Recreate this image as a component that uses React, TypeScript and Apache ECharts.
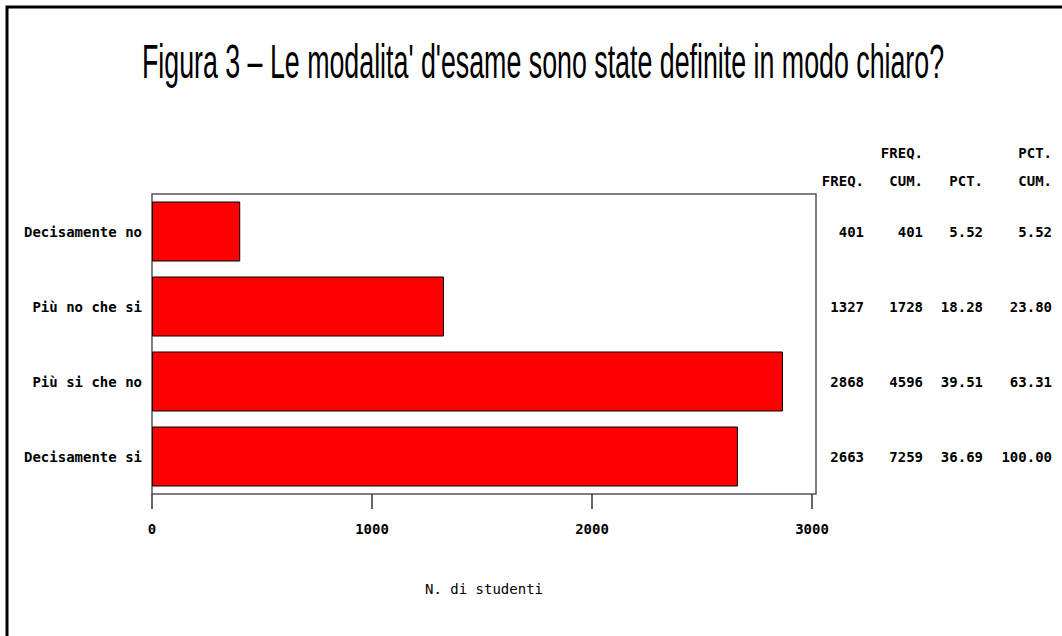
import React, { useEffect, useRef } from "react";
import * as echarts from "echarts";

const categories = ["Decisamente no", "Più no che si", "Più si che no", "Decisamente si"];
const freq = [401, 1327, 2868, 2663];
const freqCum = ["401", "1728", "4596", "7259"];
const pct = ["5.52", "18.28", "39.51", "36.69"];
const pctCum = ["5.52", "23.80", "63.31", "100.00"];
const xTicks = [0, 1000, 2000, 3000];
const headerTop = ["", "FREQ.", "", "PCT."];
const headerBottom = ["FREQ.", "CUM.", "PCT.", "CUM."];
const titleText = "Figura 3 \u2013 Le modalita' d'esame sono state definite in modo chiaro?";
const axisName = "N. di studenti";

const MONO = '"DejaVu Sans Mono", monospace';
const TITLE_FONT_SIZE = 48;

function measure(text: string, font: string): number {
  const c = document.createElement("canvas");
  const ctx = c.getContext("2d");
  if (!ctx) return 1000;
  ctx.font = font;
  return ctx.measureText(text).width;
}

export default function App() {
  const ref = useRef<HTMLDivElement>(null);

  useEffect(() => {
    if (!ref.current) return;
    const chart = echarts.init(ref.current, undefined, { renderer: "svg" });

    const gridLeft = 152;
    const gridTop = 194;
    const gridWidth = 664;
    const gridHeight = 300;
    const gridRightX = gridLeft + gridWidth;

    const colRight = [864, 923, 983, 1052];
    const columns = [freq.map(String), freqCum, pct, pctCum];

    const titleW = measure(titleText, `${TITLE_FONT_SIZE}px "Liberation Sans"`);
    const titleScale = 802 / titleW;

    const labelStyle = {
      fontFamily: MONO,
      fontSize: 14,
      fontWeight: "bold" as const,
      color: "#000",
    };

    const tableAxes = columns.map((col, i) => ({
      type: "category" as const,
      data: categories,
      inverse: true,
      position: "right" as const,
      offset: colRight[i] - gridRightX,
      axisLine: { show: false },
      axisTick: { show: false },
      axisLabel: {
        ...labelStyle,
        margin: 0,
        align: "right" as const,
        formatter: (_v: string, idx: number) => col[idx],
      },
    }));

    const headerGraphics: any[] = [];
    colRight.forEach((x, i) => {
      if (headerTop[i]) {
        headerGraphics.push({
          type: "text",
          x,
          y: 153,
          style: {
            text: headerTop[i],
            font: `bold 14px ${MONO}`,
            fill: "#000",
            textAlign: "right",
            textVerticalAlign: "middle",
          },
        });
      }
      headerGraphics.push({
        type: "text",
        x,
        y: 181,
        style: {
          text: headerBottom[i],
          font: `bold 14px ${MONO}`,
          fill: "#000",
          textAlign: "right",
          textVerticalAlign: "middle",
        },
      });
    });

    chart.setOption({
      animation: false,
      backgroundColor: "#fff",
      grid: {
        left: gridLeft,
        top: gridTop,
        width: gridWidth,
        height: gridHeight,
        show: true,
        borderColor: "#555",
        borderWidth: 1.5,
        backgroundColor: "transparent",
      },
      xAxis: {
        type: "value",
        min: 0,
        max: 3018,
        position: "bottom",
        splitLine: { show: false },
        axisLine: { show: false },
        axisTick: {
          show: true,
          length: 15,
          customValues: xTicks,
          lineStyle: { color: "#333", width: 1.5 },
        },
        axisLabel: {
          ...labelStyle,
          margin: 28,
          customValues: xTicks,
          formatter: (v: number) => String(v),
        },
        name: axisName,
        nameLocation: "middle",
        nameGap: 88,
        nameTextStyle: { fontFamily: MONO, fontSize: 14, color: "#000" },
      },
      yAxis: [
        {
          type: "category",
          data: categories,
          inverse: true,
          axisLine: { show: false },
          axisTick: { show: false },
          axisLabel: { ...labelStyle, margin: 10 },
        },
        ...tableAxes,
      ],
      series: [
        {
          type: "bar",
          data: freq,
          barCategoryGap: "20%",
          itemStyle: { color: "#ff0000", borderColor: "#000", borderWidth: 1 },
        },
      ],
      graphic: [
        {
          type: "rect",
          shape: { x: 7, y: 7, width: 1300, height: 900 },
          style: { fill: "none", stroke: "#000", lineWidth: 3 },
          silent: true,
        },
        {
          type: "text",
          x: 543,
          y: 61,
          scaleX: titleScale,
          style: {
            text: titleText,
            font: `${TITLE_FONT_SIZE}px "Liberation Sans"`,
            fill: "#000",
            textAlign: "center",
            textVerticalAlign: "middle",
          },
        },
        ...headerGraphics,
      ],
    });

    return () => chart.dispose();
  }, []);

  return (
    <div
      ref={ref}
      style={{ position: "fixed", left: 0, top: 0, width: 1062, height: 636, background: "#fff" }}
    />
  );
}
